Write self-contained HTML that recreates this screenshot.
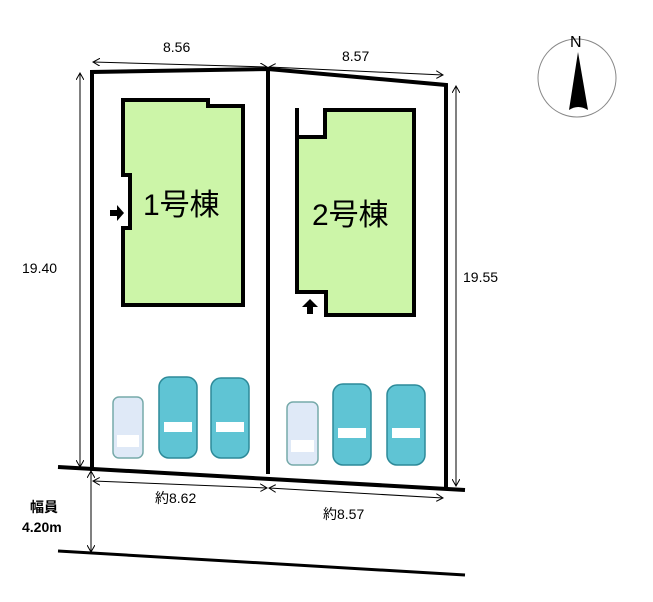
<!DOCTYPE html><html><head><style>body{margin:0;background:#fff}svg{display:block}text{font-family:"Liberation Sans","Noto Sans CJK JP",sans-serif}</style></head><body>
<svg width="653" height="602" viewBox="0 0 653 602">
<defs><marker id="a" markerWidth="8" markerHeight="8" refX="7" refY="4" orient="auto-start-reverse"><path d="M0,0 L7,4 L0,8" fill="none" stroke="#000" stroke-width="1"/></marker></defs>
<g stroke="#000" stroke-width="1" fill="none" marker-start="url(#a)" marker-end="url(#a)">
<line x1="93" y1="62" x2="267" y2="67"/><line x1="269" y1="67" x2="443" y2="75"/>
<line x1="80" y1="73" x2="80" y2="467"/><line x1="456" y1="86" x2="456" y2="486"/>
<line x1="93" y1="481" x2="267" y2="488"/><line x1="269" y1="488" x2="443" y2="498"/>
<line x1="91" y1="471" x2="91" y2="552"/>
</g>
<g font-size="14" fill="#000"><text x="163" y="52">8.56</text><text x="342" y="61">8.57</text><text x="22" y="273">19.40</text><text x="463" y="282">19.55</text><text x="155" y="503">約8.62</text><text x="323" y="519">約8.57</text><text x="30" y="512" font-weight="bold">幅員</text><text x="22" y="532" font-weight="bold">4.20m</text></g>
<g stroke="#000" stroke-width="4" fill="none">
<polyline points="92,471 92,72 268,69 446,85 446,489"/>
<line x1="268" y1="69" x2="268" y2="474"/>
</g>
<line x1="58" y1="467" x2="465" y2="490" stroke="#000" stroke-width="4"/>
<line x1="58" y1="551" x2="465" y2="575" stroke="#000" stroke-width="3"/>
<path d="M123,100 H208 V106 H243 V305 H123 V228 H130 V175 H123 Z" fill="#ccf5a8" stroke="#000" stroke-width="4"/>
<path d="M325,110 H414 V315 H326 V292 H297 V137 H325 Z" fill="#ccf5a8" stroke="#000" stroke-width="4"/>
<line x1="297" y1="108" x2="297" y2="137" stroke="#000" stroke-width="4"/>
<path d="M110,210 h7 v-5 l7,8 l-7,8 v-5 h-7 z" fill="#000"/>
<path d="M307,314 v-7 h-5 l8,-8 l8,8 h-5 v7 z" fill="#000"/>
<text x="143" y="215" font-size="30" fill="#000">1号棟</text>
<text x="312" y="225" font-size="30" fill="#000">2号棟</text>
<g stroke="#7aa" stroke-width="1.5">
<rect x="113" y="397" width="30" height="61" rx="6" fill="#dfe9f7"/>
<rect x="287" y="402" width="31" height="63" rx="6" fill="#dfe9f7"/>
<g fill="#5fc4d4" stroke="#2d8a99"><rect x="159" y="377" width="38" height="81" rx="10"/><rect x="211" y="378" width="38" height="80" rx="10"/><rect x="333" y="384" width="38" height="81" rx="10"/><rect x="387" y="385" width="38" height="80" rx="10"/></g>
</g>
<g fill="#fff" stroke="none"><rect x="164" y="422" width="28" height="10"/><rect x="216" y="422" width="28" height="10"/><rect x="338" y="428" width="28" height="10"/><rect x="392" y="428" width="28" height="10"/><rect x="117" y="435" width="22" height="12"/><rect x="291" y="440" width="23" height="12"/></g>
<circle cx="577" cy="78" r="39" fill="none" stroke="#888" stroke-width="1"/>
<text x="570" y="47" font-size="16" font-family="Liberation Serif" fill="#000">N</text>
<path d="M578,52 L569,110 Q578,104 588,110 Z" fill="#000"/>
</svg></body></html>
